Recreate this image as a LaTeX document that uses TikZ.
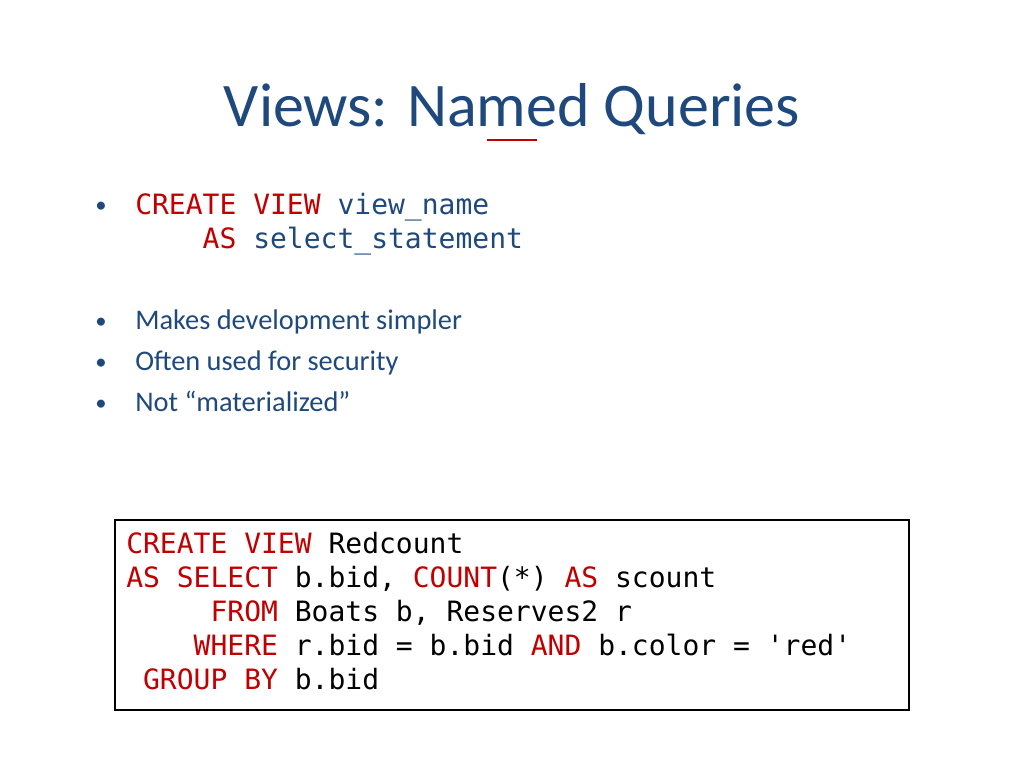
\documentclass[tikz,border=0pt]{standalone}
\usepackage{fontspec}
\setmainfont{Carlito}
\newfontfamily\codefont{DejaVu Sans Mono}
\definecolor{tblue}{HTML}{1F497D}
\definecolor{cred}{HTML}{C00000}
\begin{document}
\begin{tikzpicture}[x=0.75pt,y=-0.75pt,
  txt/.style={anchor=base west,inner sep=0pt,text=tblue,font=\fontsize{21.3}{25}\selectfont},
  code/.style={anchor=base west,inner sep=0pt,text=black,font=\codefont\fontsize{21}{25}\selectfont},
  bul/.style={anchor=base,inner sep=0pt,text=tblue,font=\fontsize{17}{20}\selectfont}]
\useasboundingbox (0,0) rectangle (1024,768);
\node[anchor=base,inner sep=0pt,text=tblue,font=\fontsize{46.5}{55}\selectfont] (title) at (512,126) {Views: Named Queries};
\draw[cred,line width=1pt] (487,140) -- (537,140);
\node[bul] (b1) at (101,212) {•};
\node[code,text=tblue] (c1) at (135,214) {\textcolor{cred}{CREATE VIEW} view\_name};
\node[code,text=tblue] (c2) at (135,248) {\phantom{xxxx}\textcolor{cred}{AS} select\_statement};
\node[bul] (b2) at (101,328) {•};
\node[txt] (t2) at (135,329) {Makes development simpler};
\node[bul] (b3) at (101,369) {•};
\node[txt] (t3) at (135,370) {Often used for security};
\node[bul] (b4) at (101,410) {•};
\node[txt] (t4) at (135,411) {Not “materialized”};
\draw[line width=0.8pt] (115,520) rectangle (909,710);
\node[code] (l1) at (126,553) {\textcolor{cred}{CREATE VIEW} Redcount};
\node[code] (l2) at (126,587) {\textcolor{cred}{AS SELECT} b.bid, \textcolor{cred}{COUNT}(*) \textcolor{cred}{AS} scount};
\node[code] (l3) at (126,621) {\phantom{xxxxx}\textcolor{cred}{FROM} Boats b, Reserves2 r};
\node[code] (l4) at (126,655) {\phantom{xxxx}\textcolor{cred}{WHERE} r.bid = b.bid \textcolor{cred}{AND} b.color = 'red'};
\node[code] (l5) at (126,689) {\phantom{x}\textcolor{cred}{GROUP BY} b.bid};
\end{tikzpicture}
\end{document}
